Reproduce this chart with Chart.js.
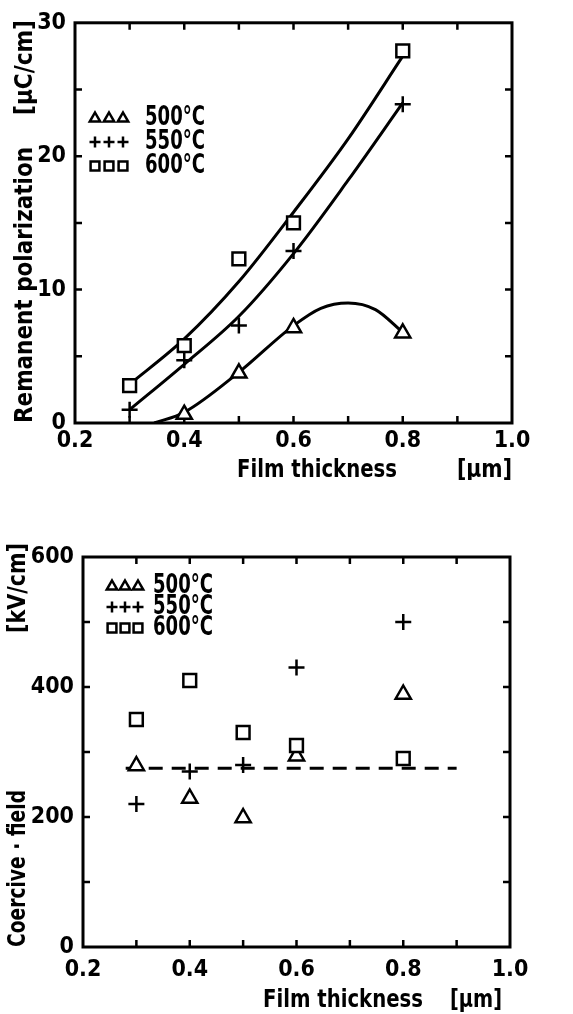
<!DOCTYPE html>
<html>
<head>
<meta charset="utf-8">
<script src="https://cdn.jsdelivr.net/npm/chart.js@4.4.1/dist/chart.umd.min.js"></script>
<style>
  html, body { margin: 0; padding: 0; background: #fff; }
  .box { position: absolute; left: 0; width: 573px; }
  #top { top: 0; height: 480px; }
  #bottom { top: 500px; height: 514px; }
</style>
</head>
<body>
<div class="box" id="top"><canvas id="polChart"></canvas></div>
<div class="box" id="bottom"><canvas id="coerChart"></canvas></div>
<script>
const tempLabels = ['500°C', '550°C', '600°C'];
const thickness = [0.3, 0.4, 0.5, 0.6, 0.8];

// remanent polarization [uC/cm]
const pr500 = [null, 0.7, 3.8, 7.2, 6.8];
const pr550 = [1.0, 4.7, 7.3, 12.9, 23.9];
const pr600 = [2.8, 5.8, 12.3, 15.0, 27.9];

// hand drawn curves
const fit500X = [0.345, 0.4, 0.5, 0.6, 0.65, 0.7, 0.75, 0.8];
const fit500Y = [0, 0.8, 3.8, 7.3, 8.6, 9.0, 8.5, 6.8];
const fit550X = [0.3, 0.4, 0.5, 0.6, 0.7, 0.8];
const fit550Y = [1.0, 4.4, 8.0, 12.7, 18.2, 24.0];
const fit600X = [0.3, 0.4, 0.5, 0.6, 0.7, 0.8];
const fit600Y = [2.9, 6.3, 10.6, 15.8, 21.3, 27.5];

// coercive field [kV/cm]
const ec500 = [280, 230, 200, 295, 390];
const ec550 = [220, 270, 280, 430, 500];
const ec600 = [350, 410, 330, 310, 290];
const ecLineX = [0.28, 0.9];
const ecLineY = [275, 275];

const xTicks = [0.2, 0.4, 0.6, 0.8, 1.0];
const xMinor = [0.3, 0.5, 0.7, 0.9];
const prTicks = [0, 10, 20, 30];
const prMinor = [5, 15, 25];
const ecTicks = [0, 200, 400, 600];
const ecMinor = [100, 300, 500];

const FONT = "'DejaVu Sans Condensed', 'DejaVu Sans', sans-serif";
const styles = ['triangle', 'cross', 'rect'];

function pts(xs, ys) {
  return xs.map((x, i) => ({ x: x, y: ys[i] })).filter(p => p.y !== null);
}

function drawSymbol(ctx, style, x, y, r) {
  ctx.beginPath();
  if (style === 'triangle') {
    ctx.moveTo(x, y - r);
    ctx.lineTo(x + r * 0.95, y + r * 0.65);
    ctx.lineTo(x - r * 0.95, y + r * 0.65);
    ctx.closePath();
    ctx.fill(); ctx.stroke();
  } else if (style === 'rect') {
    ctx.rect(x - r * 0.8, y - r * 0.8, r * 1.6, r * 1.6);
    ctx.fill(); ctx.stroke();
  } else {
    ctx.moveTo(x - r, y); ctx.lineTo(x + r, y);
    ctx.moveTo(x, y - r); ctx.lineTo(x, y + r);
    ctx.stroke();
  }
}

// frame on four sides with inward ticks
const framePlugin = {
  id: 'frame',
  afterDatasetsDraw(chart, args, opts) {
    const ctx = chart.ctx, a = chart.chartArea;
    const xs = chart.scales.x, ys = chart.scales.y;
    ctx.save();
    ctx.strokeStyle = '#000';
    ctx.lineWidth = 3;
    ctx.strokeRect(a.left, a.top, a.right - a.left, a.bottom - a.top);
    ctx.lineWidth = 2.5;
    const L = 7;
    ctx.beginPath();
    xTicks.concat(xMinor).forEach(v => {
      const px = xs.getPixelForValue(v);
      if (px <= a.left + 1 || px >= a.right - 1) return;
      ctx.moveTo(px, a.bottom); ctx.lineTo(px, a.bottom - L);
      ctx.moveTo(px, a.top); ctx.lineTo(px, a.top + L);
    });
    opts.yAll.forEach(v => {
      const py = ys.getPixelForValue(v);
      if (py <= a.top + 1 || py >= a.bottom - 1) return;
      ctx.moveTo(a.left, py); ctx.lineTo(a.left + L, py);
      ctx.moveTo(a.right, py); ctx.lineTo(a.right - L, py);
    });
    ctx.stroke();
    ctx.restore();
  }
};

// markers drawn by hand so they look like the plotter symbols
const markerPlugin = {
  id: 'markers',
  afterDatasetsDraw(chart, args, opts) {
    const ctx = chart.ctx;
    ctx.save();
    ctx.strokeStyle = '#000';
    ctx.fillStyle = '#fff';
    ctx.lineWidth = 2.5;
    chart.data.datasets.forEach((ds, i) => {
      if (!ds.symbol) return;
      chart.getDatasetMeta(i).data.forEach(el => {
        drawSymbol(ctx, ds.symbol, el.x, el.y, opts.r);
      });
    });
    // legend
    const lg = opts.legend;
    styles.forEach((s, row) => {
      for (let k = 0; k < 3; k++) {
        drawSymbol(ctx, s, lg.x + k * lg.dx, lg.y + row * lg.dy, lg.r);
      }
    });
    ctx.restore();
  }
};

const textPlugin = {
  id: 'texts',
  afterDraw(chart, args, opts) {
    const ctx = chart.ctx;
    opts.items.forEach(it => {
      ctx.save();
      ctx.font = 'bold ' + it.size + 'px ' + FONT;
      ctx.fillStyle = '#000';
      ctx.textBaseline = 'middle';
      ctx.textAlign = it.align || 'left';
      const w = ctx.measureText(it.text).width;
      const sx = it.w ? it.w / w : 1;
      ctx.translate(it.x, it.y);
      if (it.rot) ctx.rotate(-Math.PI / 2);
      ctx.scale(sx, 1);
      ctx.fillText(it.text, 0, 0);
      ctx.restore();
    });
  }
};

function makeChart(id, cfg) {
  const markerSets = cfg.series.map((ys, i) => ({
    data: pts(thickness, ys), symbol: styles[i], showLine: false, pointRadius: 0
  }));
  const lineSets = cfg.lines.map(l => ({
    data: pts(l[0], l[1]), showLine: true, pointRadius: 0, borderColor: '#000',
    borderWidth: 3, tension: 0.4, cubicInterpolationMode: 'monotone', borderDash: cfg.dash || []
  }));
  return new Chart(document.getElementById(id), {
    type: 'scatter',
    data: { datasets: markerSets.concat(lineSets) },
    options: {
      responsive: true,
      maintainAspectRatio: false,
      animation: false,
      layout: { padding: { top: cfg.area.top, right: 573 - cfg.area.right, left: 0, bottom: 0 } },
      plugins: {
        legend: { display: false },
        tooltip: { enabled: false },
        frame: { yAll: cfg.yTicks.concat(cfg.yMinor) },
        markers: { r: cfg.r, legend: cfg.legend },
        texts: { items: cfg.texts }
      },
      scales: {
        x: {
          type: 'linear', min: 0.2, max: 1.0,
          afterBuildTicks: s => { s.ticks = xTicks.map(v => ({ value: v })); },
          afterFit: s => { s.height = cfg.h - cfg.area.bottom; },
          grid: { drawOnChartArea: false, drawTicks: false },
          border: { display: false },
          ticks: { color: '#000', padding: cfg.xPad, maxRotation: 0,
            font: { family: FONT, size: 23, weight: 'bold' },
            callback: v => v.toFixed(1) }
        },
        y: {
          type: 'linear', min: cfg.yTicks[0], max: cfg.yTicks[cfg.yTicks.length - 1],
          afterBuildTicks: s => { s.ticks = cfg.yTicks.map(v => ({ value: v })); },
          afterFit: s => { s.width = cfg.area.left; },
          grid: { drawOnChartArea: false, drawTicks: false },
          border: { display: false },
          ticks: { color: '#000', padding: 9, font: { family: FONT, size: 23, weight: 'bold' } }
        }
      }
    },
    plugins: [framePlugin, markerPlugin, textPlugin]
  });
}

makeChart('polChart', {
  h: 480,
  area: { left: 75, right: 512, top: 20, bottom: 423 },
  series: [pr500, pr550, pr600],
  lines: [[fit500X, fit500Y], [fit550X, fit550Y], [fit600X, fit600Y]],
  yTicks: prTicks, yMinor: prMinor, xPad: 4, r: 8,
  legend: { x: 95, dx: 14, y: 118, dy: 24, r: 5.5 },
  texts: [
    { text: 'Remanent polarization', x: 25, y: 423, rot: true, size: 25, w: 276 },
    { text: '[μC/cm]', x: 25, y: 20, rot: true, align: 'right', size: 25, w: 95 },
    { text: 'Film thickness', x: 237, y: 470, size: 25, w: 160 },
    { text: '[μm]', x: 512, y: 470, align: 'right', size: 25, w: 55 },
    { text: tempLabels[0], x: 145, y: 118, size: 27, w: 60 },
    { text: tempLabels[1], x: 145, y: 142, size: 27, w: 60 },
    { text: tempLabels[2], x: 145, y: 166, size: 27, w: 60 }
  ]
});

makeChart('coerChart', {
  h: 514,
  area: { left: 83, right: 510, top: 57, bottom: 447 },
  series: [ec500, ec550, ec600],
  lines: [[ecLineX, ecLineY]],
  dash: [14, 9],
  yTicks: ecTicks, yMinor: ecMinor, xPad: 9, r: 8,
  legend: { x: 112, dx: 13, y: 86, dy: 21, r: 5.5 },
  texts: [
    { text: 'Coercive · field', x: 18, y: 447, rot: true, size: 25, w: 157 },
    { text: '[kV/cm]', x: 18, y: 43, rot: true, align: 'right', size: 25, w: 90 },
    { text: 'Film thickness', x: 263, y: 500, size: 25, w: 160 },
    { text: '[μm]', x: 502, y: 500, align: 'right', size: 25, w: 52 },
    { text: tempLabels[0], x: 153, y: 86, size: 27, w: 60 },
    { text: tempLabels[1], x: 153, y: 107, size: 27, w: 60 },
    { text: tempLabels[2], x: 153, y: 128, size: 27, w: 60 }
  ]
});
</script>
</body>
</html>
